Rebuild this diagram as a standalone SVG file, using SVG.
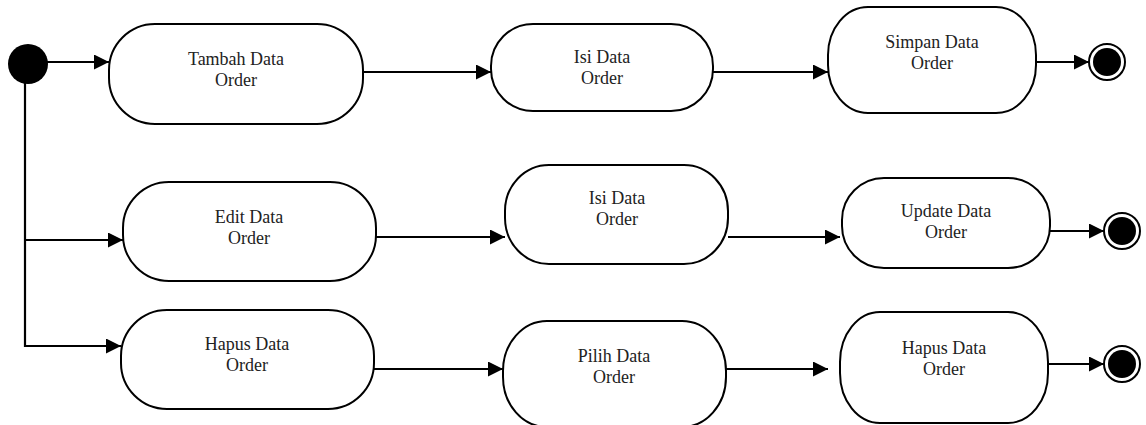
<svg xmlns="http://www.w3.org/2000/svg" width="1146" height="425" viewBox="0 0 1146 425">
  <style>
    .act { fill: #ffffff; stroke: #000000; stroke-width: 2; }
    .lbl { font-family: "Liberation Serif", "Times New Roman", serif; font-size: 18px; fill: #222222; text-anchor: middle; }
    .edge { fill: none; stroke: #000000; stroke-width: 2.2; }
    .arr { marker-end: url(#ah); }
    .start { fill: #000000; }
    .endo { fill: #ffffff; stroke: #000000; stroke-width: 2; }
    .endi { fill: #000000; }
  </style>
  <defs>
    <marker id="ah" markerUnits="userSpaceOnUse" markerWidth="16" markerHeight="16" refX="15" refY="7.5" orient="auto">
      <path d="M0,0 L15,7.5 L0,15 Z" fill="#000000"/>
    </marker>
  </defs>

  <g id="connectors">
    <line class="edge arr" x1="46" y1="62" x2="109" y2="62"/>
    <polyline class="edge" points="25,82 25,347"/>
    <line class="edge arr" x1="24" y1="240" x2="123" y2="240"/>
    <line class="edge arr" x1="24" y1="346" x2="121" y2="346"/>

    <line class="edge arr" x1="363" y1="72" x2="491" y2="72"/>
    <line class="edge arr" x1="713" y1="72" x2="828" y2="72"/>
    <line class="edge arr" x1="1033" y1="62" x2="1089" y2="62"/>

    <line class="edge arr" x1="376" y1="237" x2="505" y2="237"/>
    <line class="edge arr" x1="728" y1="237" x2="840" y2="237"/>
    <line class="edge arr" x1="1048" y1="231" x2="1104" y2="231"/>

    <line class="edge arr" x1="374" y1="369" x2="503" y2="369"/>
    <line class="edge arr" x1="726" y1="369" x2="828" y2="369"/>
    <line class="edge arr" x1="1048" y1="364" x2="1104" y2="364"/>
  </g>

  <g id="start">
    <circle class="start" cx="28" cy="64" r="20"/>
  </g>

  <g id="tambah">
    <rect class="act" x="109" y="24" width="254" height="100" rx="46" ry="46"/>
    <text class="lbl" x="236" y="65">Tambah Data</text>
    <text class="lbl" x="236" y="86">Order</text>
  </g>
  <g id="isi1">
    <rect class="act" x="491" y="24" width="222" height="87" rx="42" ry="42"/>
    <text class="lbl" x="602" y="63">Isi Data</text>
    <text class="lbl" x="602" y="84">Order</text>
  </g>
  <g id="simpan">
    <rect class="act" x="828" y="7" width="208" height="106" rx="40" ry="48"/>
    <text class="lbl" x="932" y="48">Simpan Data</text>
    <text class="lbl" x="932" y="69">Order</text>
  </g>
  <g id="end1">
    <circle class="endo" cx="1107" cy="62" r="18"/>
    <circle class="endi" cx="1107" cy="62" r="14"/>
  </g>

  <g id="edit">
    <rect class="act" x="123" y="182" width="253" height="99" rx="46" ry="46"/>
    <text class="lbl" x="249" y="223">Edit Data</text>
    <text class="lbl" x="249" y="244">Order</text>
  </g>
  <g id="isi2">
    <rect class="act" x="505" y="165" width="223" height="99" rx="44" ry="46"/>
    <text class="lbl" x="617" y="204">Isi Data</text>
    <text class="lbl" x="617" y="225">Order</text>
  </g>
  <g id="update">
    <rect class="act" x="842" y="178" width="208" height="90" rx="42" ry="42"/>
    <text class="lbl" x="946" y="217">Update Data</text>
    <text class="lbl" x="946" y="238">Order</text>
  </g>
  <g id="end2">
    <circle class="endo" cx="1122" cy="231" r="18"/>
    <circle class="endi" cx="1122" cy="231" r="14"/>
  </g>

  <g id="hapus1">
    <rect class="act" x="121" y="310" width="253" height="99" rx="46" ry="46"/>
    <text class="lbl" x="247" y="350">Hapus Data</text>
    <text class="lbl" x="247" y="371">Order</text>
  </g>
  <g id="pilih">
    <rect class="act" x="503" y="321" width="223" height="106" rx="44" ry="50"/>
    <text class="lbl" x="614" y="362">Pilih Data</text>
    <text class="lbl" x="614" y="383">Order</text>
  </g>
  <g id="hapus2">
    <rect class="act" x="840" y="312" width="208" height="111" rx="40" ry="50"/>
    <text class="lbl" x="944" y="354">Hapus Data</text>
    <text class="lbl" x="944" y="375">Order</text>
  </g>
  <g id="end3">
    <circle class="endo" cx="1122" cy="364" r="18"/>
    <circle class="endi" cx="1122" cy="364" r="14"/>
  </g>
</svg>
